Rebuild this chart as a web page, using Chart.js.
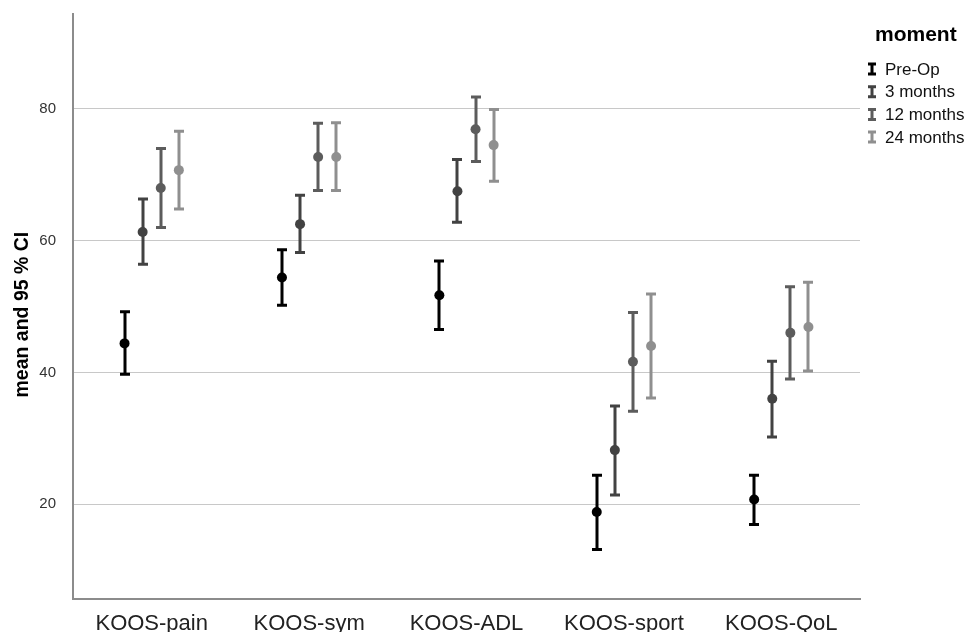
<!DOCTYPE html>
<html>
<head>
<meta charset="utf-8">
<script src="https://cdn.jsdelivr.net/npm/chart.js@4.4.1/dist/chart.umd.min.js"></script>
<style>
  body { margin: 0; background: #fff; }
  #wrap { width: 969px; height: 632px; position: relative; }
</style>
</head>
<body>
<div id="wrap"><canvas id="ciChart"></canvas></div>
<script>
// Categorías y momentos
const categories = ['KOOS-pain', 'KOOS-sym', 'KOOS-ADL', 'KOOS-sport', 'KOOS-QoL'];
const moments = ['Pre-Op', '3 months', '12 months', '24 months'];
const yTicks = [20, 40, 60, 80];

// Medias y límites del IC 95 %
const meanPreOp = [44.4, 54.4, 51.7, 18.8, 20.7];
const lowPreOp = [39.7, 50.2, 46.5, 13.1, 16.9];
const highPreOp = [49.2, 58.6, 56.9, 24.4, 24.4];

const mean3m = [61.3, 62.5, 67.5, 28.2, 36.0];
const low3m = [56.4, 58.2, 62.8, 21.4, 30.2];
const high3m = [66.3, 66.9, 72.3, 34.9, 41.7];

const mean12m = [68.0, 72.7, 76.9, 41.6, 46.0];
const low12m = [62.0, 67.6, 72.0, 34.1, 39.0];
const high12m = [74.0, 77.8, 81.8, 49.1, 53.0];

const mean24m = [70.7, 72.7, 74.5, 44.0, 46.9];
const low24m = [64.8, 67.6, 69.0, 36.1, 40.2];
const high24m = [76.6, 77.9, 79.9, 51.9, 53.7];

const colors = ['#000000', '#424242', '#5c5c5c', '#8f8f8f'];
const FONT = 'Arial, "Liberation Sans", sans-serif';

const series = [
  [meanPreOp, lowPreOp, highPreOp],
  [mean3m, low3m, high3m],
  [mean12m, low12m, high12m],
  [mean24m, low24m, high24m]
];

// desplazamiento de cada momento dentro del grupo
const groupStep = 0.115;

const datasets = series.map((s, j) => ({
  label: moments[j],
  data: s[0].map((m, i) => ({
    x: i + (j - 1.5) * groupStep,
    y: m,
    low: s[1][i],
    high: s[2][i]
  })),
  showLine: false,
  pointRadius: 5,
  pointHoverRadius: 5,
  pointBackgroundColor: colors[j],
  pointBorderColor: colors[j],
  pointBorderWidth: 0,
  borderColor: colors[j],
  backgroundColor: colors[j]
}));

// Barras de error (IC) dibujadas con las escalas del gráfico
const errorBars = {
  id: 'errorBars',
  beforeDatasetsDraw(chart) {
    const ctx = chart.ctx;
    const yScale = chart.scales.y;
    chart.data.datasets.forEach((ds, j) => {
      const meta = chart.getDatasetMeta(j);
      ctx.save();
      ctx.strokeStyle = colors[j];
      ctx.lineWidth = 3;
      meta.data.forEach((pt, i) => {
        const d = ds.data[i];
        const yl = yScale.getPixelForValue(d.low);
        const yh = yScale.getPixelForValue(d.high);
        const x = Math.round(pt.x);
        ctx.beginPath();
        ctx.moveTo(x, yl);
        ctx.lineTo(x, yh);
        ctx.moveTo(x - 5, yl);
        ctx.lineTo(x + 5, yl);
        ctx.moveTo(x - 5, yh);
        ctx.lineTo(x + 5, yh);
        ctx.stroke();
      });
      ctx.restore();
    });
  }
};

// Leyenda a la derecha ("moment")
const legendRight = {
  id: 'legendRight',
  afterDraw(chart) {
    const ctx = chart.ctx;
    ctx.save();
    ctx.fillStyle = '#000';
    ctx.textBaseline = 'middle';
    ctx.font = 'bold 21px ' + FONT;
    ctx.fillText('moment', 875, 35);
    moments.forEach((m, j) => {
      const y = 69 + j * 22.7;
      const x = 872;
      ctx.strokeStyle = colors[j];
      ctx.lineWidth = 3;
      ctx.beginPath();
      ctx.moveTo(x, y - 5);
      ctx.lineTo(x, y + 5);
      ctx.moveTo(x - 4, y - 5);
      ctx.lineTo(x + 4, y - 5);
      ctx.moveTo(x - 4, y + 5);
      ctx.lineTo(x + 4, y + 5);
      ctx.stroke();
      ctx.fillStyle = '#111';
      ctx.font = '17px ' + FONT;
      ctx.fillText(m, 885, y + 1);
    });
    ctx.restore();
  }
};

const ctx = document.getElementById('ciChart').getContext('2d');
const ciChart = new Chart(ctx, {
  type: 'scatter',
  data: { datasets: datasets },
  options: {
    responsive: true,
    maintainAspectRatio: false,
    animation: false,
    layout: { padding: { top: 14, right: 109, left: 0, bottom: 0 } },
    plugins: {
      legend: { display: false },
      tooltip: { enabled: false }
    },
    scales: {
      x: {
        type: 'linear',
        min: -0.5,
        max: 4.5,
        afterBuildTicks: (scale) => {
          scale.ticks = categories.map((c, i) => ({ value: i }));
        },
        afterFit: (scale) => { scale.height = 33; },
        grid: { display: false },
        border: { display: true, color: '#8c8c8c', width: 2 },
        ticks: {
          padding: 4,
          color: '#222',
          font: { family: FONT, size: 22 },
          maxRotation: 0,
          callback: (v) => categories[v]
        }
      },
      y: {
        min: 5.6,
        max: 94.4,
        afterBuildTicks: (scale) => {
          scale.ticks = yTicks.map(v => ({ value: v }));
        },
        afterFit: (scale) => {
          scale.width = 73;
          scale.paddingTop = 0;
        },
        grid: { color: '#c8c8c8', lineWidth: 1, drawTicks: false },
        border: { display: true, color: '#8c8c8c', width: 2 },
        ticks: {
          padding: 17,
          color: '#333',
          font: { family: FONT, size: 15 }
        },
        title: {
          display: true,
          text: 'mean and 95 % CI   ',
          color: '#000',
          font: { family: FONT, size: 19.5, weight: 'bold' },
          padding: { top: 11, bottom: 0 }
        }
      }
    }
  },
  plugins: [errorBars, legendRight]
});
</script>
</body>
</html>
